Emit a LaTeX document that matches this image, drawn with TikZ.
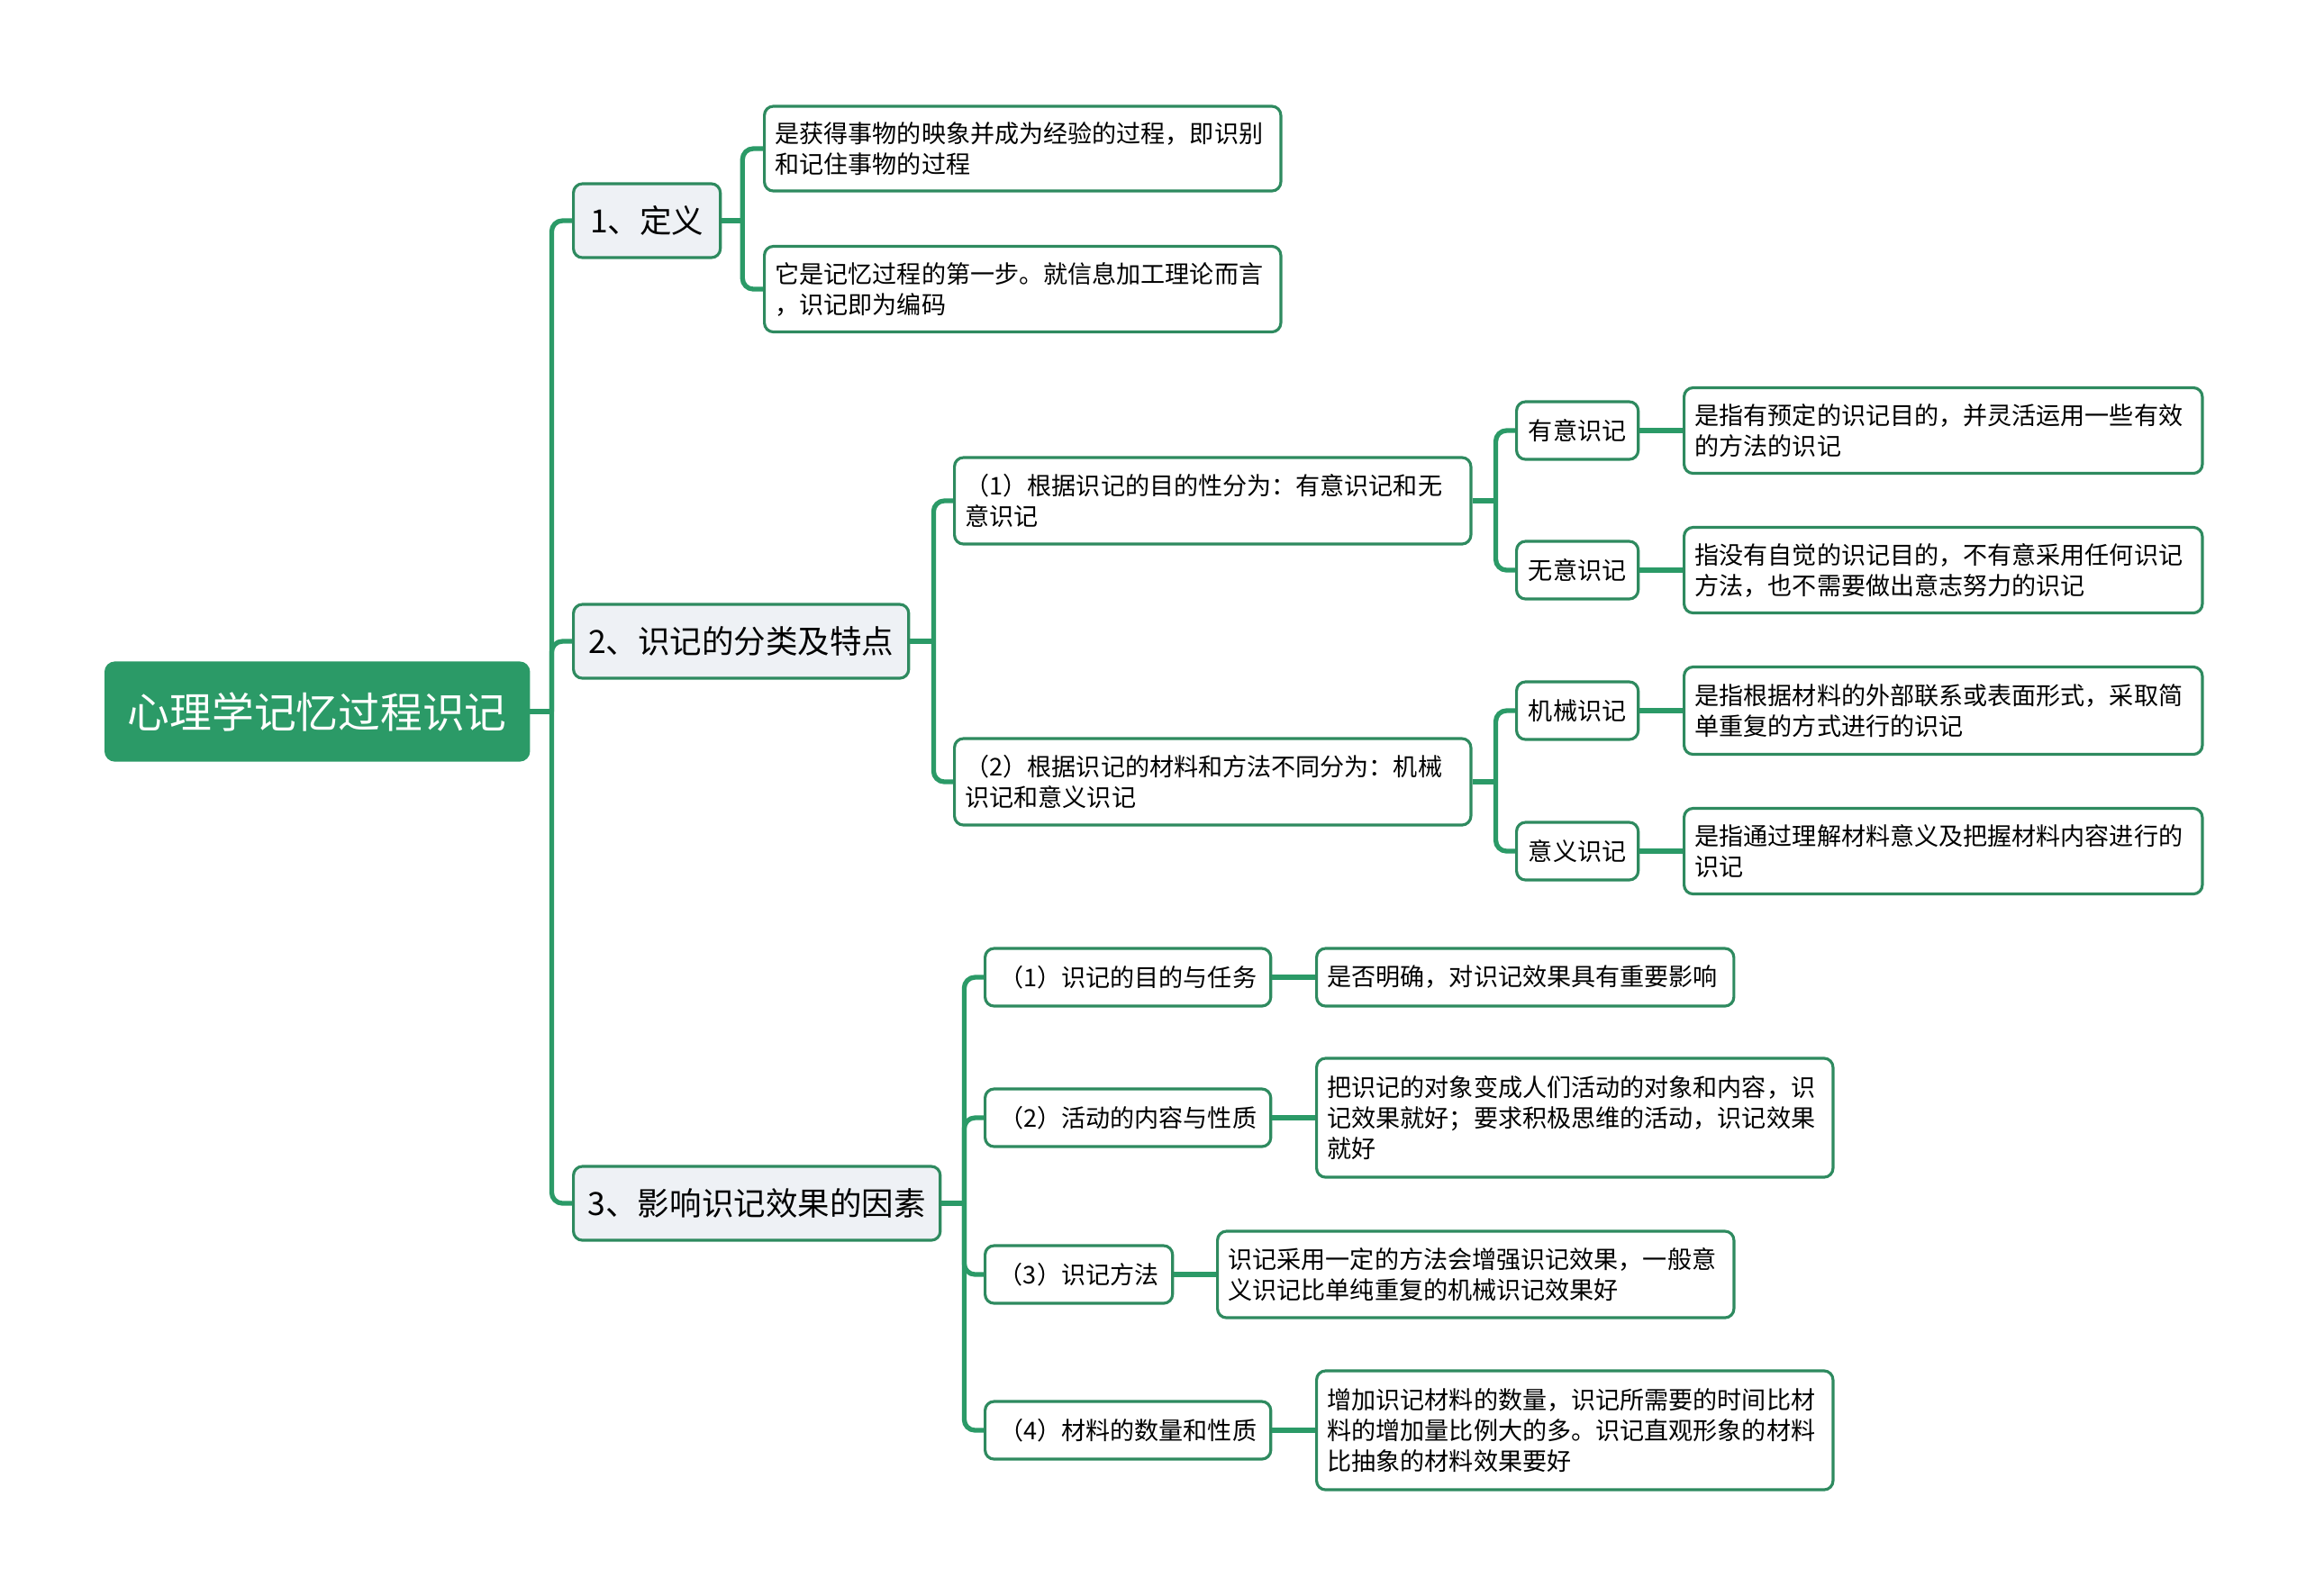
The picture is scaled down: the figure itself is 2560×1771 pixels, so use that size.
\documentclass[tikz,border=0pt]{standalone}
\usepackage{fontspec}
\setmainfont{Noto Sans CJK SC}
\definecolor{verde}{HTML}{2B9A67}
\definecolor{borde}{HTML}{2E8A5F}
\definecolor{gris}{HTML}{EEF1F5}
\tikzset{
  caja/.style={rounded corners=0.1cm, draw=borde, line width=0.9pt, fill=white, anchor=west},
  raiz/.style={caja, fill=verde, draw=verde, text=white, font=\fontsize{13.3pt}{16pt}\selectfont,
    minimum width=4.69cm, minimum height=1.08cm},
  rama/.style={caja, fill=gris, font=\fontsize{10.1pt}{12pt}\selectfont, minimum height=0.82cm},
  tema/.style={caja, font=\fontsize{7.7pt}{9.7pt}\selectfont, minimum height=0.64cm},
  hoja/.style={caja, font=\fontsize{7.7pt}{9.7pt}\selectfont, align=left, inner xsep=0.12cm, text width=#1},
  hoja/.default=5.49cm,
  enlace/.style={draw=verde, line width=1.5pt, rounded corners=0.12cm},
}
\begin{document}
\begin{tikzpicture}[x=0.01cm, y=-0.01cm, line join=round]
  \useasboundingbox (0,0) rectangle (2560,1771);
  % la raiz
  \node[raiz] (raiz) at (116,790) {心理学记忆过程识记};
  % las tres ramas
  \node[rama, minimum width=1.63cm] (r1) at (635,245) {1、定义};
  \node[rama, minimum width=3.72cm] (r2) at (635,712) {2、识记的分类及特点};
  \node[rama, minimum width=4.07cm] (r3) at (635,1336) {3、影响识记效果的因素};
  % la definicion
  \node[hoja, minimum height=0.94cm] (d1) at (847,165) {是获得事物的映象并成为经验的过程，即识别\\和记住事物的过程};
  \node[hoja, minimum height=0.95cm] (d2) at (847,321) {它是记忆过程的第一步。就信息加工理论而言\\，识记即为编码};
  % la clasificacion
  \node[hoja, minimum height=0.96cm] (c1) at (1058,556) {（1）根据识记的目的性分为：有意识记和无\\意识记};
  \node[hoja, minimum height=0.96cm] (c2) at (1058,868) {（2）根据识记的材料和方法不同分为：机械\\识记和意义识记};
  \node[tema, minimum width=1.35cm] (t1) at (1682,478) {有意识记};
  \node[tema, minimum width=1.35cm] (t2) at (1682,633) {无意识记};
  \node[tema, minimum width=1.35cm] (t3) at (1682,789) {机械识记};
  \node[tema, minimum width=1.35cm] (t4) at (1682,945) {意义识记};
  \node[hoja=5.51cm, minimum height=0.95cm] (e1) at (1868,478) {是指有预定的识记目的，并灵活运用一些有效\\的方法的识记};
  \node[hoja=5.51cm, minimum height=0.95cm] (e2) at (1868,633) {指没有自觉的识记目的，不有意采用任何识记\\方法，也不需要做出意志努力的识记};
  \node[hoja=5.51cm, minimum height=0.97cm] (e3) at (1868,789) {是指根据材料的外部联系或表面形式，采取简\\单重复的方式进行的识记};
  \node[hoja=5.51cm, minimum height=0.95cm] (e4) at (1868,945) {是指通过理解材料意义及把握材料内容进行的\\识记};
  % los factores
  \node[tema, minimum width=3.17cm] (f1) at (1092,1085) {（1）识记的目的与任务};
  \node[tema, minimum width=3.17cm] (f2) at (1092,1241) {（2）活动的内容与性质};
  \node[tema, minimum width=2.08cm] (f3) at (1092,1415) {（3）识记方法};
  \node[tema, minimum width=3.17cm] (f4) at (1092,1588) {（4）材料的数量和性质};
  \node[hoja=4.39cm, minimum height=0.64cm] (g1) at (1460,1085) {是否明确，对识记效果具有重要影响};
  \node[hoja, minimum height=1.32cm] (g2) at (1460,1241) {把识记的对象变成人们活动的对象和内容，识\\记效果就好；要求积极思维的活动，识记效果\\就好};
  \node[hoja, minimum height=0.96cm] (g3) at (1350,1415) {识记采用一定的方法会增强识记效果，一般意\\义识记比单纯重复的机械识记效果好};
  \node[hoja, minimum height=1.32cm] (g4) at (1460,1588) {增加识记材料的数量，识记所需要的时间比材\\料的增加量比例大的多。识记直观形象的材料\\比抽象的材料效果要好};
  % las lineas
  \draw[enlace] (raiz.east) -- ++(24,0) coordinate (j0);
  \foreach \n in {r1,r2,r3} \draw[enlace] (j0) |- (\n.west);
  \draw[enlace] (r1.east) -- ++(23,0) coordinate (j1);
  \foreach \n in {d1,d2} \draw[enlace] (j1) |- (\n.west);
  \draw[enlace] (r2.east) -- ++(26,0) coordinate (j2);
  \foreach \n in {c1,c2} \draw[enlace] (j2) |- (\n.west);
  \draw[enlace] (c1.east) -- ++(26,0) coordinate (j3);
  \foreach \n in {t1,t2} \draw[enlace] (j3) |- (\n.west);
  \draw[enlace] (c2.east) -- ++(26,0) coordinate (j4);
  \foreach \n in {t3,t4} \draw[enlace] (j4) |- (\n.west);
  \draw[enlace] (r3.east) -- ++(25,0) coordinate (j5);
  \foreach \n in {f1,f2,f3,f4} \draw[enlace] (j5) |- (\n.west);
  \foreach \a/\b in {t1/e1,t2/e2,t3/e3,t4/e4,f1/g1,f2/g2,f3/g3,f4/g4}
    \draw[enlace] (\a.east) -- (\b.west);
\end{tikzpicture}
\end{document}
